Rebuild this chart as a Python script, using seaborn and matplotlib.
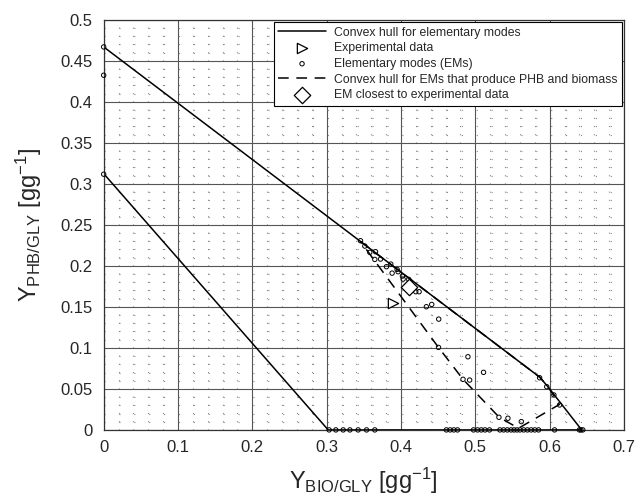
"""
Yield space plot: convex hulls of elementary modes, PHB vs biomass
"""
import matplotlib
matplotlib.use('Agg')
import matplotlib.pyplot as plt
import seaborn as sns
import numpy as np
from matplotlib.ticker import MultipleLocator

# convex hull for all elementary modes (closed)
hull_x = [0.0, 0.587, 0.599, 0.643, 0.302, 0.0, 0.0]
hull_y = [0.467, 0.064, 0.051, 0.0, 0.0, 0.3125, 0.467]

# convex hull for EMs producing PHB and biomass (closed)
hull2_x = [0.3455, 0.587, 0.599, 0.613, 0.558, 0.532, 0.4834, 0.4504, 0.3455]
hull2_y = [0.2297, 0.064, 0.051, 0.031, 0.002, 0.0155, 0.0617, 0.1006, 0.2297]

# elementary modes
em_x = [0.0, 0.0, 0.0,
        0.3455, 0.3513, 0.358, 0.3657, 0.3647, 0.3724, 0.3804, 0.3862, 0.388,
        0.3947, 0.396, 0.4019, 0.4028, 0.4104, 0.4117, 0.4198, 0.4243, 0.4341,
        0.4413, 0.4507, 0.4504, 0.4834, 0.4923, 0.490, 0.511, 0.5317, 0.5438,
        0.5618, 0.5864, 0.596, 0.6056, 0.6133,
        0.3033, 0.3123, 0.3222, 0.3312, 0.3423, 0.3536, 0.3647,
        0.461, 0.466, 0.471, 0.476,
        0.4975, 0.503, 0.508, 0.513, 0.519,
        0.533, 0.538, 0.543, 0.548, 0.552, 0.556, 0.560, 0.565, 0.570, 0.575,
        0.580, 0.585, 0.6065, 0.640, 0.642, 0.6445]
em_y = [0.467, 0.4325, 0.3118,
        0.2307, 0.2242, 0.2165, 0.2173, 0.2079, 0.2083, 0.199, 0.2022, 0.1912,
        0.1957, 0.1929, 0.1876, 0.1839, 0.1835, 0.1745, 0.1685, 0.1685, 0.1502,
        0.153, 0.1351, 0.1006, 0.0617, 0.0608, 0.0892, 0.0702, 0.0154, 0.0142,
        0.0101, 0.0636, 0.0527, 0.0426, 0.0304,
        0, 0, 0, 0, 0, 0, 0,
        0, 0, 0, 0,
        0, 0, 0, 0, 0,
        0, 0, 0, 0, 0, 0, 0, 0, 0, 0,
        0, 0, 0, 0, 0, 0]

exp_x = [0.389]
exp_y = [0.155]

closest_x = [0.411]
closest_y = [0.174]

sns.set_style('white')
plt.rcParams['font.family'] = ['Liberation Sans', 'DejaVu Sans']
plt.rcParams['mathtext.fontset'] = 'custom'
plt.rcParams['mathtext.rm'] = 'Liberation Sans'
plt.rcParams['mathtext.it'] = 'Liberation Sans:italic'

fig, ax = plt.subplots(figsize=(6.44, 4.97), dpi=100)
fig.subplots_adjust(left=0.161, right=0.969, top=0.960, bottom=0.135)

ax.plot(hull_x, hull_y, color='black', lw=1.1, label='Convex hull for elementary modes')
sns.scatterplot(x=exp_x, y=exp_y, ax=ax, marker='>', s=55, facecolor='white',
                edgecolor='black', linewidth=0.9, label='Experimental data', zorder=4)
sns.scatterplot(x=em_x, y=em_y, ax=ax, marker='o', s=10, facecolor='none',
                edgecolor='black', linewidth=0.7, label='Elementary modes (EMs)',
                zorder=3, clip_on=False)
ax.plot(hull2_x, hull2_y, color='black', lw=1.1, dashes=(7, 5),
        label='Convex hull for EMs that produce PHB and biomass')
sns.scatterplot(x=closest_x, y=closest_y, ax=ax, marker='D', s=70, facecolor='white',
                edgecolor='black', linewidth=0.9, label='EM closest to experimental data', zorder=4)

ax.set_xlim(0, 0.7)
ax.set_ylim(0, 0.5)
ax.set_xticks(np.arange(0, 0.71, 0.1))
ax.set_xticklabels(['0', '0.1', '0.2', '0.3', '0.4', '0.5', '0.6', '0.7'])
ax.set_yticks(np.arange(0, 0.51, 0.05))
ax.set_yticklabels(['0', '0.05', '0.1', '0.15', '0.2', '0.25', '0.3', '0.35',
                    '0.4', '0.45', '0.5'])
ax.xaxis.set_minor_locator(MultipleLocator(0.02))
ax.yaxis.set_minor_locator(MultipleLocator(0.01))
ax.grid(True, which='major', color='#555555', lw=0.8)
# dotted minor grid, dot spacing chosen so the dots form a lattice
ax.xaxis.grid(True, which='minor', color='#8a8a8a', lw=0.8, linestyle=(0, (1, 6.38)))
ax.yaxis.grid(True, which='minor', color='#8a8a8a', lw=0.8, linestyle=(0, (1, 12.4)))
ax.set_axisbelow(True)
ax.tick_params(axis='x', which='major', direction='in', length=4, labelsize=12, width=0.8, pad=7)
ax.tick_params(axis='y', which='major', direction='in', length=4, labelsize=12, width=0.8, pad=8)
ax.tick_params(which='minor', length=0)
for sp in ax.spines.values():
    sp.set_color('#333333')
    sp.set_linewidth(0.9)

ax.set_xlabel(r'Y$_{\mathrm{BIO/GLY}}$ [gg$^{-1}$]', fontsize=17, labelpad=8)
ax.set_ylabel(r'Y$_{\mathrm{PHB/GLY}}$ [gg$^{-1}$]', fontsize=17, labelpad=12)

leg = ax.legend(loc='upper right', fontsize=8.8, frameon=True, fancybox=False,
                edgecolor='black', framealpha=1, borderpad=0.35, labelspacing=0.3,
                handlelength=3.9, handletextpad=0.65, borderaxespad=0.2)
leg.get_frame().set_linewidth(0.8)

plt.savefig('out.png', dpi=100)
